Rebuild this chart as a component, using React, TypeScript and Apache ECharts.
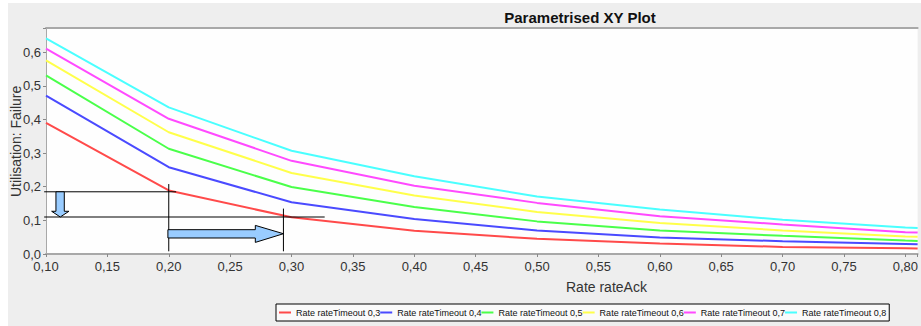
import React, { useEffect, useRef } from "react";
import * as echarts from "echarts";

const xValues = [0.1, 0.2, 0.3, 0.4, 0.5, 0.6, 0.7, 0.8, 0.81];
const seriesNames = [
  "Rate rateTimeout 0,3",
  "Rate rateTimeout 0,4",
  "Rate rateTimeout 0,5",
  "Rate rateTimeout 0,6",
  "Rate rateTimeout 0,7",
  "Rate rateTimeout 0,8",
];
const timeout03 = [0.39, 0.189, 0.109, 0.069, 0.045, 0.031, 0.021, 0.017, 0.016];
const timeout04 = [0.471, 0.258, 0.154, 0.104, 0.07, 0.049, 0.038, 0.03, 0.029];
const timeout05 = [0.531, 0.313, 0.199, 0.14, 0.097, 0.07, 0.054, 0.04, 0.039];
const timeout06 = [0.576, 0.362, 0.241, 0.174, 0.125, 0.092, 0.07, 0.052, 0.051];
const timeout07 = [0.611, 0.402, 0.277, 0.203, 0.152, 0.112, 0.088, 0.065, 0.064];
const timeout08 = [0.641, 0.436, 0.307, 0.231, 0.171, 0.132, 0.102, 0.079, 0.077];
const seriesValues = [timeout03, timeout04, timeout05, timeout06, timeout07, timeout08];
const seriesColors = ["#ff4a4a", "#4a4aff", "#4aff4a", "#ffff4a", "#ff4aff", "#4affff"];

// annotation guides (data coordinates)
const guideHorizontal = [
  [0.0985, 0.206, 0.185],
  [0.0985, 0.327, 0.11],
]; // [xStart, xEnd, y]
const guideVertical = [
  [0.2, 0.008, 0.208],
  [0.2934, 0.008, 0.135],
]; // [x, yStart, yEnd]
const downArrow = [
  [0.1081, 0.185],
  [0.1149, 0.185],
  [0.1149, 0.127],
  [0.1187, 0.127],
  [0.1116, 0.11],
  [0.1046, 0.127],
  [0.1081, 0.127],
];
const rightArrow = [
  [0.1993, 0.0723],
  [0.2705, 0.0723],
  [0.2705, 0.0851],
  [0.2934, 0.0603],
  [0.2705, 0.0345],
  [0.2705, 0.0476],
  [0.1993, 0.0476],
];

const X_MIN = 0.1;
const X_MAX = 0.81;
const Y_MAX = 0.672;
const FONT = "'Liberation Sans', Arial, sans-serif";

export default function App() {
  const ref = useRef<HTMLDivElement>(null);
  useEffect(() => {
    if (!ref.current) return;
    const chart = echarts.init(ref.current, null, { renderer: "svg" });
    const lineSeries = seriesNames.map((name, i) => ({
      name,
      type: "line",
      data: xValues.map((x, j) => [x, seriesValues[i][j]]),
      showSymbol: false,
      symbol: "none",
      color: seriesColors[i],
      lineStyle: { width: 2, color: seriesColors[i] },
      clip: true,
      z: 2,
    }));
    const annotation = {
      type: "custom",
      name: "annotation",
      silent: true,
      z: 5,
      data: [[X_MIN, 0]],
      encode: { x: 0, y: 1 },
      renderItem: (_params: any, api: any) => {
        const children: any[] = [];
        guideHorizontal.forEach(([x1, x2, y]) => {
          const a = api.coord([x1, y]);
          const b = api.coord([x2, y]);
          children.push({
            type: "line",
            shape: { x1: a[0], y1: a[1], x2: b[0], y2: b[1] },
            style: { stroke: "#000", lineWidth: 1 },
          });
        });
        guideVertical.forEach(([x, y1, y2]) => {
          const a = api.coord([x, y1]);
          const b = api.coord([x, y2]);
          children.push({
            type: "line",
            shape: { x1: a[0], y1: a[1], x2: b[0], y2: b[1] },
            style: { stroke: "#000", lineWidth: 1 },
          });
        });
        [downArrow, rightArrow].forEach((pts) => {
          children.push({
            type: "polygon",
            shape: { points: pts.map((p) => api.coord(p)) },
            style: { fill: "#99ccff", stroke: "#000", lineWidth: 1 },
          });
        });
        return { type: "group", children };
      },
    };
    chart.setOption({
      animation: false,
      title: {
        text: "Parametrised XY Plot",
        left: 575,
        textAlign: "center",
        top: 5,
        textStyle: { fontFamily: FONT, fontSize: 15, fontWeight: "bold", color: "#111" },
      },
      grid: {
        left: 46,
        right: 0,
        top: 28,
        bottom: 72,
        show: true,
        backgroundColor: "#fefefe",
        borderWidth: 0,
      },
      legend: {
        data: seriesNames,
        left: 276,
        top: 304,
        orient: "horizontal",
        icon: "rect",
        itemWidth: 12,
        itemHeight: 2,
        itemGap: 0,
        padding: [4, 3, 4, 3],
        borderColor: "#000",
        borderWidth: 1,
        backgroundColor: "#fafafa",
        borderRadius: 0,
        textStyle: { fontFamily: FONT, fontSize: 9, color: "#111" },
        selectedMode: false,
      },
      graphic: [
        {
          type: "text",
          left: 566,
          top: 280,
          style: { text: "Rate rateAck", fontFamily: FONT, fontSize: 14, fill: "#333" },
        },
        {
          type: "text",
          x: 23,
          y: 197,
          rotation: Math.PI / 2,
          style: {
            text: "Utilisation: Failure",
            fontFamily: FONT,
            fontSize: 14,
            fill: "#333",
            textAlign: "left",
            textVerticalAlign: "bottom",
          },
        },
      ],
      xAxis: [
        {
          type: "value",
          min: X_MIN,
          max: X_MAX,
          interval: 0.05,
          splitLine: { show: false },
          axisLine: { show: true, lineStyle: { color: "#a8a8a8", width: 2 } },
          axisTick: { show: true, length: 3, lineStyle: { color: "#888" } },
          axisLabel: {
            color: "#333",
            fontFamily: FONT,
            fontSize: 13,
            margin: 6,
            formatter: (v: number) =>
              Math.abs(v * 20 - Math.round(v * 20)) < 1e-6 ? v.toFixed(2).replace(".", ",") : "",
          },
        },
        {
          type: "value",
          position: "top",
          min: X_MIN,
          max: X_MAX,
          interval: 0.05,
          splitLine: { show: false },
          axisLine: { show: true, lineStyle: { color: "#a8a8a8", width: 2 } },
          axisTick: { show: false },
          axisLabel: { show: false },
        },
      ],
      yAxis: {
        type: "value",
        min: 0,
        max: Y_MAX,
        interval: 0.1,
        splitLine: { show: false },
        axisLine: { show: true, lineStyle: { color: "#a8a8a8", width: 1 } },
        axisTick: { show: true, length: 3, lineStyle: { color: "#888" } },
        axisLabel: {
          color: "#333",
          fontFamily: FONT,
          fontSize: 13,
          margin: 5,
          formatter: (v: number) =>
            Math.abs(v * 10 - Math.round(v * 10)) < 1e-6 ? v.toFixed(1).replace(".", ",") : "",
        },
      },
      series: [...lineSeries, annotation],
    });
    return () => chart.dispose();
  }, []);
  return (
    <div style={{ position: "fixed", left: 0, top: 0, width: 921, height: 326, background: "#fff" }}>
      <div
        style={{ position: "absolute", left: 8, top: 3, width: 913, height: 323, background: "#eeeeee" }}
      />
      <div ref={ref} style={{ position: "absolute", left: 0, top: 0, width: 921, height: 326 }} />
    </div>
  );
}
